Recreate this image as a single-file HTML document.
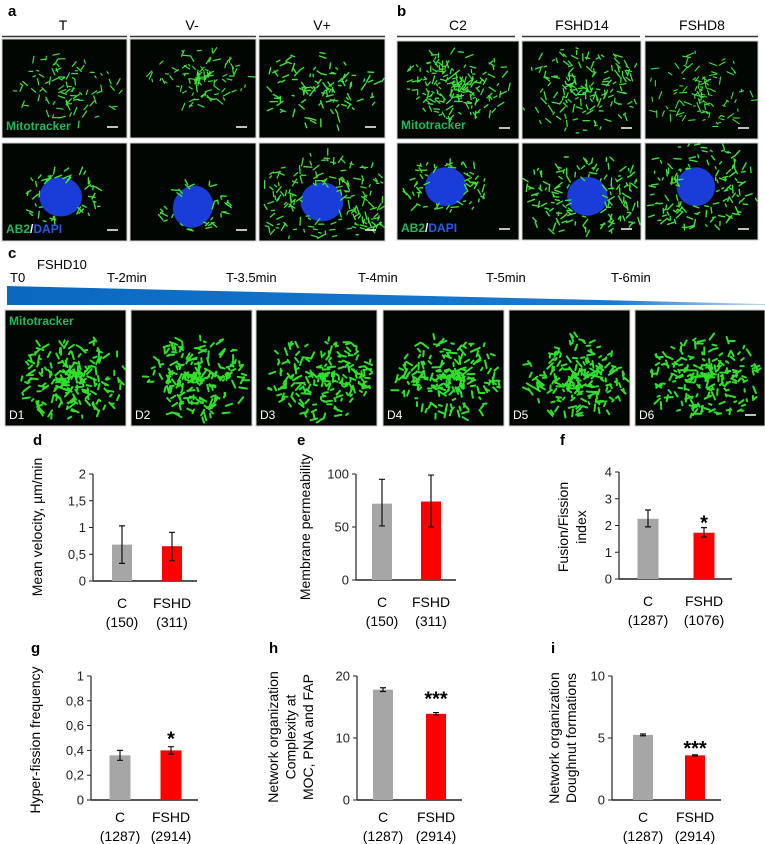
<!DOCTYPE html>
<html><head><meta charset="utf-8">
<style>
html,body{margin:0;padding:0;background:#fff;}
svg{display:block;font-family:"Liberation Sans",Arial,sans-serif;}
</style></head>
<body>
<svg id="fig" width="765" height="844" viewBox="0 0 765 844" xmlns="http://www.w3.org/2000/svg">
<defs>
<linearGradient id="wedge" x1="0" x2="1" y1="0" y2="0">
<stop offset="0" stop-color="#0a68c0"/><stop offset="0.8" stop-color="#1a7ad0"/><stop offset="1" stop-color="#bcd8f2"/>
</linearGradient>
</defs>
<g id="micro"></g>
<g font-size="14">
<text x="8" y="16" font-weight="bold" font-size="15">a</text>
<text x="63" y="30" text-anchor="middle">T</text>
<text x="192" y="30" text-anchor="middle">V-</text>
<text x="322" y="30" text-anchor="middle">V+</text>
<line x1="2" x2="127" y1="36.5" y2="36.5" stroke="#333" stroke-width="1.5"/>
<line x1="130" x2="256" y1="36.5" y2="36.5" stroke="#333" stroke-width="1.5"/>
<line x1="259" x2="385" y1="36.5" y2="36.5" stroke="#333" stroke-width="1.5"/>
</g>
<g font-size="14">
<text x="397" y="16" font-weight="bold" font-size="15">b</text>
<text x="458" y="30" text-anchor="middle">C2</text>
<text x="582" y="30" text-anchor="middle">FSHD14</text>
<text x="702" y="30" text-anchor="middle">FSHD8</text>
<line x1="397" x2="515" y1="36.5" y2="36.5" stroke="#333" stroke-width="1.5"/>
<line x1="522" x2="640" y1="36.5" y2="36.5" stroke="#333" stroke-width="1.5"/>
<line x1="645" x2="758" y1="36.5" y2="36.5" stroke="#333" stroke-width="1.5"/>
</g>
<g font-size="13">
<text x="8" y="258" font-weight="bold" font-size="15">c</text>
<text x="37" y="269">FSHD10</text>
<text x="10" y="282">T0</text>
<text x="107" y="282">T-2min</text>
<text x="226" y="282">T-3.5min</text>
<text x="358" y="282">T-4min</text>
<text x="486" y="282">T-5min</text>
<text x="611" y="282">T-6min</text>
<polygon points="7,286 765,304 765,305 7,305" fill="url(#wedge)"/>
</g>
<g id="charts" font-size="13"></g>
</svg>
<script>
// ---------- chart data ----------
const categories = ["C", "FSHD"];
const dCounts = ["(150)", "(311)"];
const dValues = [0.68, 0.65];
const dErrLow = [0.33, 0.38];
const dErrHigh = [1.03, 0.91];
const dTicks = ["0", "0,5", "1", "1,5", "2"];
const dTickVals = [0, 0.5, 1, 1.5, 2];

const eCounts = ["(150)", "(311)"];
const eValues = [72, 74];
const eErrLow = [51, 50];
const eErrHigh = [95, 99];
const eTicks = ["0", "50", "100"];
const eTickVals = [0, 50, 100];

const fCounts = ["(1287)", "(1076)"];
const fValues = [2.25, 1.73];
const fErrLow = [1.95, 1.57];
const fErrHigh = [2.58, 1.92];
const fTicks = ["0", "1", "2", "3", "4"];
const fTickVals = [0, 1, 2, 3, 4];

const gCounts = ["(1287)", "(2914)"];
const gValues = [0.36, 0.40];
const gErrLow = [0.32, 0.37];
const gErrHigh = [0.40, 0.43];
const gTicks = ["0", "0,2", "0,4", "0,6", "0,8", "1"];
const gTickVals = [0, 0.2, 0.4, 0.6, 0.8, 1];

const hCounts = ["(1287)", "(2914)"];
const hValues = [17.8, 13.9];
const hErrLow = [17.5, 13.7];
const hErrHigh = [18.1, 14.1];
const hTicks = ["0", "10", "20"];
const hTickVals = [0, 10, 20];

const iCounts = ["(1287)", "(2914)"];
const iValues = [5.25, 3.6];
const iErrLow = [5.18, 3.56];
const iErrHigh = [5.32, 3.64];
const iTicks = ["0", "5", "10"];
const iTickVals = [0, 5, 10];

const NS = "http://www.w3.org/2000/svg";
function mk(tag, attrs, parent){
  const e = document.createElementNS(NS, tag);
  for (const k in attrs) e.setAttribute(k, attrs[k]);
  if (parent) parent.appendChild(e);
  return e;
}
const charts = document.getElementById('charts');

function chart(key, cfg, values, lo, hi, ticks, tickVals, counts){
  const g = mk('g', {}, charts);
  
  
  const max = tickVals[tickVals.length-1];
  const y = v => cfg.y0 - (v / max) * (cfg.y0 - cfg.yTop);
  const lt = mk('text', {x: cfg.letterX, y: cfg.letterY, 'font-weight':'bold', 'font-size':'15'}, g);
  lt.textContent = key;
  
  
  const ax = mk('line', {x1: cfg.x0, x2: cfg.x0, y1: cfg.yTop, y2: cfg.y0, stroke:'#222', 'stroke-width':1.2}, g);
  
  
  const bx = mk('line', {x1: cfg.x0, x2: cfg.x1, y1: cfg.y0, y2: cfg.y0, stroke:'#222', 'stroke-width':1.4}, g);
  
  
  tickVals.forEach((tv, i) => {
    mk('line', {x1: cfg.x0-4, x2: cfg.x0, y1: y(tv), y2: y(tv), stroke:'#222', 'stroke-width':1}, g);
    const t = mk('text', {x: cfg.x0-7, y: y(tv)+4.5, 'text-anchor':'end', fill:'#222'}, g);
    t.textContent = ticks[i];
    
    
  });
  const colors = ['#a6a6a6', '#ff0000'];
  values.forEach((v, i) => {
    const cx = cfg.barX[i];
    const r = mk('rect', {x: cx - cfg.bw/2, y: y(v), width: cfg.bw, height: cfg.y0 - y(v), fill: colors[i]}, g);
    
    
    const e = mk('path', {d: `M${cx},${y(lo[i])}V${y(hi[i])}M${cx-3},${y(lo[i])}h6M${cx-3},${y(hi[i])}h6`, stroke:'#111', 'stroke-width':1.2, fill:'none'}, g);
    
    
    const c = mk('text', {x: cx, y: cfg.y0+cfg.l1, 'text-anchor':'middle', 'font-size':'14'}, g);
    c.textContent = categories[i];
    
    
    const n = mk('text', {x: cx, y: cfg.y0+cfg.l2, 'text-anchor':'middle', 'font-size':'14'}, g);
    n.textContent = counts[i];
    
    
  });
  if (cfg.star){
    const s = mk('text', {x: cfg.barX[1], y: y(hi[1]) + cfg.sd, 'text-anchor':'middle', 'font-size':'20', 'font-weight':'bold'}, g);
    s.textContent = cfg.star;
    
    
  }
  cfg.title.forEach((line, i) => {
    const tx = cfg.titleX + i*cfg.ts;
    const t = mk('text', {x: tx, y: cfg.titleY, 'text-anchor':'middle', 'font-size':'14', transform:`rotate(-90 ${tx} ${cfg.titleY})`}, g);
    t.textContent = line;
    
    
  });
}

chart('d', {x0:93,x1:197,y0:581,yTop:474,barX:[122,172],bw:20,l1:27,l2:46,letterX:33,letterY:445,titleX:42,titleY:527,ts:18,title:["Mean velocity, µm/min"]}, dValues,dErrLow,dErrHigh,dTicks,dTickVals,dCounts);
chart('e', {x0:356,x1:456,y0:580,yTop:474,barX:[382,431],bw:20,l1:27,l2:46,letterX:297,letterY:445,titleX:310,titleY:527,ts:18,title:["Membrane permeability"]}, eValues,eErrLow,eErrHigh,eTicks,eTickVals,eCounts);
chart('f', {x0:619,x1:732,y0:579,yTop:472,barX:[648,704],bw:21,l1:27,l2:46,letterX:560,letterY:445,titleX:568,titleY:527,ts:18,title:["Fusion/Fission","index"],star:"*",sd:2}, fValues,fErrLow,fErrHigh,fTicks,fTickVals,fCounts);
chart('g', {x0:91,x1:198,y0:800,yTop:676,barX:[120,171],bw:21,l1:22,l2:41,letterX:31,letterY:653,titleX:40,titleY:740,ts:18,title:["Hyper-fission frequency"],star:"*",sd:-1}, gValues,gErrLow,gErrHigh,gTicks,gTickVals,gCounts);
chart('h', {x0:357,x1:462,y0:800,yTop:676,barX:[383,436],bw:20,l1:22,l2:41,letterX:269,letterY:653,titleX:278,titleY:737,ts:17.5,title:["Network organization","Complexity at","MOC, PNA and FAP"],star:"***",sd:-7}, hValues,hErrLow,hErrHigh,hTicks,hTickVals,hCounts);
chart('i', {x0:612,x1:721,y0:800,yTop:676,barX:[643,695],bw:20,l1:22,l2:41,letterX:551,letterY:653,titleX:559,titleY:738,ts:17,title:["Network organization","Doughnut formations"],star:"***",sd:0}, iValues,iErrLow,iErrHigh,iTicks,iTickVals,iCounts);

// ---------- microscopy panels (decorative) ----------
const micro = document.getElementById('micro');
let seed = 12345;
function rnd(){ seed = (seed*1103515245 + 12345) % 2147483648; return seed/2147483648; }
function panel(name, x, y, w, h, opt){
  const g = mk('g', {}, micro);
  
  
  mk('rect', {x, y, width:w, height:h, fill:'#020602', stroke:'#ccc', 'stroke-width':1}, g);
  const cx = x + w*(opt.cx||0.5), cy = y + h*(opt.cy||0.5);
  if (opt.nuc){
    mk('ellipse', {cx: cx, cy: cy, rx: w*0.17, ry: h*0.2, fill:'#1a3cd8', transform:`rotate(${opt.rot||0} ${cx} ${cy})`}, g);
  }
  let d = '';
  const n = opt.n || 160;
  for (let i=0;i<n;i++){
    const a = rnd()*Math.PI*2, r = Math.pow(rnd(),0.8)*Math.min(w,h)*(opt.spread||0.5);
    let px = cx + Math.cos(a)*r*(w/h), py = cy + Math.sin(a)*r*0.8;
    if (opt.nuc){ const dx=(px-cx)/(w*0.17), dy=(py-cy)/(h*0.2); if (dx*dx+dy*dy<1) continue; }
    if (px<x+2||px>x+w-2||py<y+2||py>y+h-2) continue;
    const l = 2+rnd()*6, b = rnd()*Math.PI*2;
    const qx = Math.max(x+1, Math.min(x+w-1, px+Math.cos(b)*l)), qy = Math.max(y+1, Math.min(y+h-1, py+Math.sin(b)*l));
    d += `M${px.toFixed(1)},${py.toFixed(1)}L${qx.toFixed(1)},${qy.toFixed(1)}`;
  }
  mk('path', {d, stroke: opt.col||'#3ee03a', 'stroke-width': opt.sw||1.5, 'stroke-linecap':'round', fill:'none'}, g);
  if (opt.bar) mk('line', {x1:x+w-20, x2:x+w-9, y1:y+h-11, y2:y+h-11, stroke:'#fff', 'stroke-width':1.5}, g);
  if (opt.label){
    const t = mk('text', {x: x+4, y: y+h-(opt.labelDy||8), 'font-size':'12', 'font-weight':'bold', fill:'#1fb85a'}, g);
    t.textContent = opt.label;
  }
  if (opt.ab2){
    const t = mk('text', {x: x+4, y: y+h-8, 'font-size':'12', 'font-weight':'bold'}, g);
    const s1 = mk('tspan', {fill:'#1fb85a'}, t); s1.textContent='AB2';
    const s2 = mk('tspan', {fill:'#fff'}, t); s2.textContent='/';
    const s3 = mk('tspan', {fill:'#2b58e8'}, t); s3.textContent='DAPI';
  }
  if (opt.dlab){
    const t = mk('text', {x: x+4, y: y+h-7, 'font-size':'12', fill:'#fff'}, g);
    t.textContent = opt.dlab;
  }
}
// a
panel('image-a-t-mitotracker',2,39,125,99,{n:90,spread:0.45,cx:0.55,label:'Mitotracker',bar:1,sw:1.2});
panel('image-a-vminus-mitotracker',130,39,126,99,{n:100,spread:0.4,cx:0.55,cy:0.4,bar:1,sw:1.2});
panel('image-a-vplus-mitotracker',259,39,126,99,{n:110,spread:0.5,bar:1,sw:1.4});
panel('image-a-t-ab2',2,143,125,98,{n:100,spread:0.35,nuc:1,cx:0.47,cy:0.55,ab2:1,bar:1,sw:1.4});
panel('image-a-vminus-ab2',130,143,126,98,{n:90,spread:0.3,nuc:1,cx:0.5,cy:0.65,rot:-60,bar:1,sw:1.4});
panel('image-a-vplus-ab2',259,143,126,98,{n:260,spread:0.6,nuc:1,cx:0.5,cy:0.6,bar:1,sw:1.3});
// b
panel('image-b-c2-mitotracker',397,41,122,98,{n:180,spread:0.45,cx:0.5,cy:0.45,label:'Mitotracker',labelDy:10,bar:1,sw:1.3});
panel('image-b-fshd14-mitotracker',522,41,119,98,{n:170,spread:0.55,bar:1,sw:1.3});
panel('image-b-fshd8-mitotracker',645,41,113,98,{n:110,spread:0.5,bar:1,sw:1.1});
panel('image-b-c2-ab2',397,143,122,97,{n:120,spread:0.35,nuc:1,cx:0.4,cy:0.45,ab2:1,bar:1,sw:1.4});
panel('image-b-fshd14-ab2',522,143,119,97,{n:210,spread:0.55,nuc:1,cx:0.55,cy:0.55,bar:1,sw:1.4});
panel('image-b-fshd8-ab2',645,143,113,97,{n:210,spread:0.55,nuc:1,cx:0.45,cy:0.45,rot:-30,bar:1,sw:1.4});
// c
const cx0 = [5,131,256,383,509,635];
cx0.forEach((x,i)=>{
  panel('image-c-d'+(i+1), x, 310, (i==5?130:121), 116, {n:200,spread:0.45,cx:0.55,cy:0.58,sw:2,col:'#2ee02a',dlab:'D'+(i+1),label:i==0?'Mitotracker':null,labelDy:101,bar:i==5});
});
</script>
</body></html>
